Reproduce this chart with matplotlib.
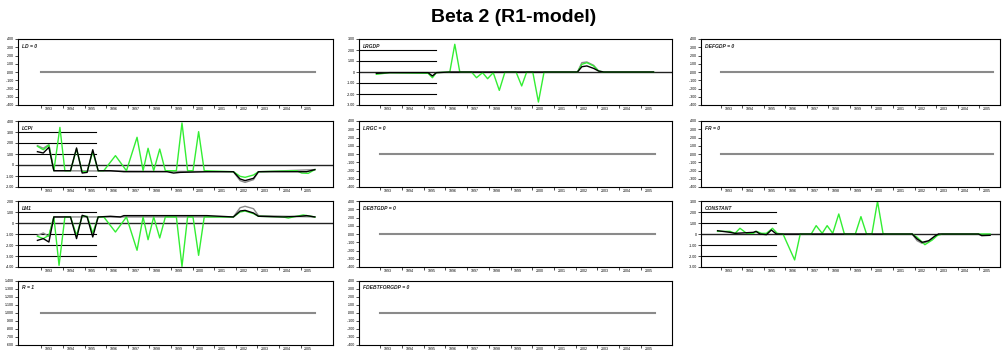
import matplotlib
matplotlib.use("Agg")
import matplotlib.pyplot as plt

plt.rcParams['font.family'] = ['Liberation Sans', 'DejaVu Sans']

# ---------------- data ----------------
years = [str(y) for y in range(1993, 2006)]

flat_x = [0.0, 12.66]

lcpi_black_x = [-0.18, 0.09, 0.35, 0.58, 1.35, 1.63, 1.89, 2.12, 2.38, 2.63, 3.2, 3.82, 5.82, 6.12, 6.43, 7.66, 8.89, 9.2, 9.43, 9.82, 10.05, 11.97, 12.28, 12.66]
lcpi_black_y = [1.21, 1.09, 1.61, -0.52, -0.52, 1.55, -0.73, -0.67, 1.39, -0.52, -0.52, -0.61, -0.61, -0.73, -0.67, -0.61, -0.61, -1.27, -1.42, -1.21, -0.61, -0.61, -0.61, -0.42]
lcpi_green_x = [-0.18, 0.09, 0.35, 0.58, 0.86, 1.09, 1.35, 1.63, 1.89, 2.12, 2.38, 2.63, 2.89, 3.43, 3.94, 4.43, 4.71, 4.94, 5.2, 5.48, 5.74, 6.25, 6.51, 6.77, 7.02, 7.28, 7.54, 8.89, 9.2, 9.43, 9.82, 10.05, 11.82, 12.05, 12.35, 12.66]
lcpi_green_y = [1.7, 1.39, 1.82, -0.52, 3.42, -0.52, -0.52, 1.45, -0.61, -0.61, 1.21, -0.52, -0.52, 0.85, -0.52, 2.52, -0.52, 1.52, -0.52, 1.45, -0.52, -0.52, 3.82, -0.52, -0.52, 3.03, -0.52, -0.61, -1.03, -1.12, -0.91, -0.61, -0.52, -0.73, -0.76, -0.42]
lcpi_gray_x = [-0.18, 0.09, 0.35, 0.58, 8.89, 9.2, 9.43, 9.82, 10.05, 12.66]
lcpi_gray_y = [1.76, 1.52, 1.85, -0.52, -0.61, -1.42, -1.58, -1.33, -0.61, -0.42]

lm1_black_x = [-0.18, 0.09, 0.35, 0.58, 1.35, 1.63, 1.89, 2.12, 2.38, 2.63, 3.2, 3.66, 3.82, 7.66, 8.89, 9.2, 9.43, 9.82, 10.05, 11.2, 11.97, 12.28, 12.66]
lm1_black_y = [-1.58, -1.42, -1.73, 0.55, 0.55, -1.42, 0.7, 0.55, -1.27, 0.55, 0.61, 0.55, 0.67, 0.67, 0.55, 1.09, 1.15, 0.91, 0.61, 0.55, 0.61, 0.67, 0.55]
lm1_green_x = [-0.18, 0.09, 0.35, 0.58, 0.82, 1.09, 1.35, 1.63, 1.89, 2.12, 2.38, 2.63, 2.89, 3.43, 3.94, 4.43, 4.71, 4.94, 5.2, 5.48, 5.74, 6.25, 6.51, 6.77, 7.02, 7.28, 7.54, 8.89, 9.2, 9.43, 9.82, 10.05, 11.2, 11.43, 11.66, 12.12, 12.66]
lm1_green_y = [-1.21, -1.42, -1.12, 0.55, -3.85, 0.55, 0.55, -1.12, 0.61, 0.61, -0.91, 0.55, 0.55, -0.82, 0.55, -2.48, 0.55, -1.52, 0.55, -1.36, 0.55, 0.55, -3.95, 0.55, 0.55, -2.94, 0.55, 0.55, 1.0, 1.09, 0.85, 0.61, 0.55, 0.45, 0.55, 0.73, 0.55]
lm1_gray_x = [-0.18, 0.09, 0.35, 0.58, 8.89, 9.2, 9.43, 9.82, 10.05, 12.66]
lm1_gray_y = [-1.12, -0.91, -1.21, 0.55, 0.55, 1.39, 1.52, 1.3, 0.67, 0.55]

lrgdp_black_x = [-0.18, 0.43, 2.2, 2.4, 2.58, 3.2, 9.08, 9.28, 9.51, 9.82, 10.05, 10.28, 12.58]
lrgdp_black_y = [-0.12, -0.06, -0.06, -0.36, -0.06, 0, 0, 0.48, 0.55, 0.33, 0.09, 0, 0]
lrgdp_green_x = [-0.18, 0.43, 2.2, 2.4, 2.58, 3.2, 3.43, 3.66, 4.2, 4.43, 4.71, 4.94, 5.2, 5.48, 5.74, 6.25, 6.51, 6.74, 7.02, 7.28, 7.54, 9.08, 9.28, 9.51, 9.82, 10.05, 10.28, 12.58]
lrgdp_green_y = [-0.21, -0.06, -0.12, -0.52, -0.06, 0, 2.52, 0, 0, -0.52, -0.06, -0.61, -0.06, -1.67, 0, 0, -1.27, 0, 0, -2.73, 0, 0, 0.7, 0.85, 0.55, 0.09, 0, 0]
lrgdp_gray_x = [9.08, 9.28, 9.51, 9.82, 10.05]
lrgdp_gray_y = [0, 0.85, 0.91, 0.61, 0.09]

const_black_x = [-0.15, 0.43, 0.66, 1.51, 1.63, 1.82, 2.12, 2.35, 2.58, 8.89, 9.12, 9.35, 9.66, 9.97, 10.12, 11.97, 12.12, 12.51]
const_black_y = [0.3, 0.15, 0.06, 0.15, 0.24, 0, -0.06, 0.36, 0, 0, -0.45, -0.76, -0.61, -0.15, 0, 0, -0.15, -0.12]
const_green_x = [-0.15, 0.43, 0.66, 0.89, 1.2, 1.51, 1.66, 1.89, 2.12, 2.4, 2.62, 2.89, 3.43, 3.69, 4.2, 4.43, 4.71, 4.94, 5.2, 5.48, 5.74, 6.25, 6.51, 6.77, 7.02, 7.28, 7.54, 8.89, 9.12, 9.48, 9.82, 10.05, 10.28, 12.51]
const_green_y = [0.24, 0.24, 0.06, 0.52, 0.06, 0.06, 0.24, 0.06, 0.06, 0.52, 0.06, 0, -2.36, 0, 0, 0.76, 0.06, 0.76, 0.06, 1.82, 0, 0, 1.58, 0, 0, 2.97, 0, 0, -0.3, -0.97, -0.55, -0.15, 0, 0]
const_gray_x = [8.89, 9.12, 9.35, 9.66, 9.97, 10.12]
const_gray_y = [0, -0.61, -0.85, -0.67, -0.24, 0]

# ---------------- layout ----------------
W, H = 1002, 353
fig = plt.figure(figsize=(W / 100, H / 100), dpi=100)

cols = [(18, 333, -1.08, 13.5), (359, 672, -0.98, 13.43), (701, 1000, -0.92, 12.97)]
rows = [(39, 105), (121, 187), (201, 267), (281, 345)]

GREEN = '#33ee33'
GRAY = '#8a8a8a'


def make_ax(r, c):
    x0, x1, xl, xr = cols[c]
    y0, y1 = rows[r]
    ax = fig.add_axes([x0 / W, 1 - y1 / H, (x1 - x0) / W, (y1 - y0) / H])
    ax.set_xlim(xl, xr)
    for s in ax.spines.values():
        s.set_linewidth(0.8)
        s.set_color('black')
    ax.set_xticks(range(0, 13))
    ax.set_xticklabels([])
    ax.set_xticks([k + 0.35 for k in range(13)], minor=True)
    ax.set_xticklabels(years, minor=True, fontsize=2.6)
    ax.tick_params(axis='x', which='major', length=2, width=0.5, direction='out')
    ax.tick_params(axis='x', which='minor', length=0, pad=1.5)
    ax.tick_params(axis='y', length=2, width=0.5, labelsize=2.6, pad=1)
    return ax


def label(ax, text):
    ax.text(0.012, 0.93, text, transform=ax.transAxes, fontsize=3.6,
            fontweight='bold', fontstyle='italic', color='#222222', va='top', ha='left')


def flat_panel(r, c, text, level=0.0):
    ax = make_ax(r, c)
    ax.set_ylim(level - 0.4, level + 0.4)
    ticks = [level + 0.1 * k for k in range(-4, 5)]
    ax.set_yticks(ticks)
    ax.set_yticklabels([f"{t:.3f}".replace("0.", ".") for t in ticks])
    ax.plot(flat_x, [level, level], color=GRAY, lw=1.5)
    label(ax, text)
    return ax


def series_panel(r, c, text, ylim, gray, green, black):
    ax = make_ax(r, c)
    lo, hi = ylim
    ax.set_ylim(lo, hi)
    ticks = list(range(lo, hi + 1))
    ax.set_yticks(ticks)
    ax.set_yticklabels([f"{t:.2f}".replace("0.", ".") if t != 0 else "0" for t in ticks])
    xl = cols[c][2]
    for t in ticks:
        if t not in (lo, 0, hi):
            ax.plot([xl, 2.55], [t, t], color='black', lw=0.8)
    ax.axhline(0, color='#222222', lw=1.0)
    ax.plot(gray[0], gray[1], color=GRAY, lw=1.0)
    ax.plot(green[0], green[1], color=GREEN, lw=1.0)
    ax.plot(black[0], black[1], color='black', lw=1.0)
    label(ax, text)
    return ax


flat_panel(0, 0, "LD = 0")
series_panel(0, 1, "LRGDP", (-3, 3), (lrgdp_gray_x, lrgdp_gray_y),
             (lrgdp_green_x, lrgdp_green_y), (lrgdp_black_x, lrgdp_black_y))
flat_panel(0, 2, "DEFGDP = 0")
series_panel(1, 0, "LCPI", (-2, 4), (lcpi_gray_x, lcpi_gray_y),
             (lcpi_green_x, lcpi_green_y), (lcpi_black_x, lcpi_black_y))
flat_panel(1, 1, "LRGC = 0")
flat_panel(1, 2, "FR = 0")
series_panel(2, 0, "LM1", (-4, 2), (lm1_gray_x, lm1_gray_y),
             (lm1_green_x, lm1_green_y), (lm1_black_x, lm1_black_y))
flat_panel(2, 1, "DEBTGDP = 0")
series_panel(2, 2, "CONSTANT", (-3, 3), (const_gray_x, const_gray_y),
             (const_green_x, const_green_y), (const_black_x, const_black_y))
flat_panel(3, 0, "R = 1", level=1.0)
flat_panel(3, 1, "FDEBTFORGDP = 0")

fig.text(514 / W, 1 - 17 / H, "Beta 2 (R1-model)", ha='center', va='center',
         fontsize=14, fontweight='bold')

fig.savefig("out.png", dpi=100)
